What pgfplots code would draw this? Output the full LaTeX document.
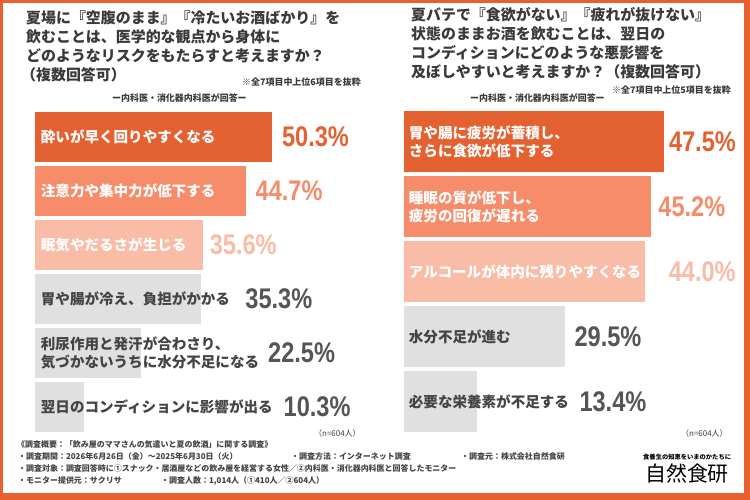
\documentclass[border=0pt]{standalone}
\usepackage{pgfplots}
\pgfplotsset{compat=1.18}
\usepackage{fontspec}
\setmainfont{Noto Sans CJK JP}
\newfontfamily\numfont[FakeStretch=0.83]{Liberation Sans}
\definecolor{framecol}{HTML}{E8602E}
\definecolor{cA}{HTML}{E46232}
\definecolor{cB}{HTML}{F68C69}
\definecolor{cC}{HTML}{F9BCA6}
\definecolor{cG}{HTML}{E0E0E0}
\definecolor{vG}{HTML}{555555}
\definecolor{txt}{HTML}{3A3A3A}
\definecolor{lab}{HTML}{444444}
\pgfplotsset{
  barpanel/.style={
    scale only axis, xmin=0, xmax=60, y dir=reverse,
    xbar, bar shift=0pt, clip=false, axis on top,
    axis line style={draw=none}, tick style={draw=none},
    xtick=\empty,
    yticklabel style={anchor=west, inner sep=0pt, align=left, text=lab,
      font=\bfseries\fontsize{14.6}{17.5}\selectfont},
    point meta=x,
    nodes near coords={\numfont\bfseries\fontsize{28.5}{30}\selectfont\pgfmathprintnumber[fixed,fixed zerofill,precision=1,assume math mode=true]{\pgfplotspointmeta}\%},
    every node near coord/.append style={anchor=west, inner sep=0pt},
  }
}
\begin{document}
\begin{tikzpicture}
\path[use as bounding box] (0,0) rectangle (750bp,500bp);
\fill[framecol] (0,0) rectangle (750bp,500bp);
\fill[white] (3bp,7bp) rectangle (744bp,497bp);

% ---------- titles ----------
\begin{scope}[every node/.style={anchor=base west, inner sep=0pt, text=txt, font=\bfseries\fontsize{15}{19}\selectfont}]
\node at (26bp,476.3bp) {夏場に『空腹のまま』『冷たいお酒ばかり』を};
\node at (26bp,457.3bp) {飲むことは、医学的な観点から身体に};
\node at (26bp,438.3bp) {どのようなリスクをもたらすと考えますか？};
\node at (21bp,419.3bp) {（複数回答可）};
\node at (411bp,479.3bp) {夏バテで『食欲がない』『疲れが抜けない』};
\node at (411bp,460.3bp) {状態のままお酒を飲むことは、翌日の};
\node at (411bp,441.3bp) {コンディションにどのような悪影響を};
\node at (411bp,422.3bp) {及ぼしやすいと考えますか？（複数回答可）};
\end{scope}
\begin{scope}[every node/.style={anchor=base west, inner sep=0pt, text=txt, font=\bfseries\fontsize{9}{11}\selectfont}]
\node at (242bp,414bp) {※全7項目中上位6項目を抜粋};
\node at (612bp,406bp) {※全7項目中上位5項目を抜粋};
\node at (112bp,398bp) {ー内科医・消化器内科医が回答ー};
\node at (470bp,398bp) {ー内科医・消化器内科医が回答ー};
\end{scope}
\begin{scope}[every node/.style={anchor=base west, inner sep=0pt, text=txt, font=\fontsize{8}{10}\selectfont}]
\node at (314bp,63bp) {（n=604人）};
\node at (681bp,63bp) {（n=604人）};
\end{scope}

% ---------- left chart ----------
\begin{axis}[barpanel,
  at={(35bp,390bp)}, anchor=north west,
  width=282.6bp, height=324bp, ymin=0.5, ymax=6.5,
  bar width=0.926,
  ytick={1,2,3,4,5,6},
  yticklabel style={xshift=10bp},
  yticklabels={{\color{white}酔いが早く回りやすくなる},
               {\color{white}注意力や集中力が低下する},
               {\color{white}眠気やだるさが生じる},
               {胃や腸が冷え、負担がかかる},
               {利尿作用と発汗が合わさり、\\気づかないうちに水分不足になる},
               {翌日のコンディションに影響が出る}},
]
\addplot[draw=none, fill=cA, nodes near coords style={text=cA, xshift=10bp}] coordinates {(50.3,1)};
\addplot[draw=none, fill=cB, nodes near coords style={text=cB, xshift=10bp}] coordinates {(44.7,2)};
\addplot[draw=none, fill=cC, nodes near coords style={text=cC, xshift=7bp}] coordinates {(35.6,3)};
\addplot[draw=none, fill=cG, nodes near coords style={text=vG, xshift=44bp}] coordinates {(35.3,4)};
\addplot[draw=none, fill=cG, nodes near coords style={text=vG, xshift=127bp}] coordinates {(22.5,5)};
\addplot[draw=none, fill=cG, nodes near coords style={text=vG, xshift=200bp}] coordinates {(10.3,6)};
\end{axis}

% ---------- right chart ----------
\begin{axis}[barpanel,
  at={(404bp,390.5bp)}, anchor=north west,
  width=328.2bp, height=324.5bp, ymin=0.5, ymax=5.5,
  bar width=0.94,
  ytick={1,2,3,4,5},
  yticklabel style={xshift=9bp},
  yticklabels={{\color{white}胃や腸に疲労が蓄積し、\\\color{white}さらに食欲が低下する},
               {\color{white}睡眠の質が低下し、\\\color{white}疲労の回復が遅れる},
               {\color{white}アルコールが体内に残りやすくなる},
               {水分不足が進む},
               {必要な栄養素が不足する}},
]
\addplot[draw=none, fill=cA, nodes near coords style={text=cA, xshift=5bp}] coordinates {(47.5,1)};
\addplot[draw=none, fill=cB, nodes near coords style={text=cB, xshift=7bp}] coordinates {(45.2,2)};
\addplot[draw=none, fill=cC, nodes near coords style={text=cC, xshift=24bp}] coordinates {(44.0,3)};
\addplot[draw=none, fill=cG, nodes near coords style={text=vG, xshift=9bp}] coordinates {(29.5,4)};
\addplot[draw=none, fill=cG, nodes near coords style={text=vG, xshift=102bp}] coordinates {(13.4,5)};
\end{axis}

% ---------- footer ----------
\begin{scope}[every node/.style={anchor=base west, inner sep=0pt, text=lab, font=\bfseries\fontsize{8}{10}\selectfont}]
\node at (17bp,52bp) {《調査概要：「飲み屋のママさんの気遣いと夏の飲酒」に関する調査》};
\node at (18bp,40bp) {・調査期間：2026年6月26日（金）～2025年6月30日（火）};
\node at (291bp,40bp) {・調査方法：インターネット調査};
\node at (461bp,40bp) {・調査元：株式会社自然食研};
\node at (18bp,29bp) {・調査対象：調査回答時に①スナック・居酒屋などの飲み屋を経営する女性／②内科医・消化器内科医と回答したモニター};
\node at (18bp,17bp) {・モニター提供元：サクリサ};
\node at (161bp,17bp) {・調査人数：1,014人（①410人／②604人）};
\end{scope}
\node[anchor=base west, inner sep=0pt, text=black, font=\bfseries\fontsize{6.3}{7}\selectfont] at (643bp,40bp) {食養生の知恵をいまのかたちに};
\node[anchor=base west, inner sep=0pt, text=black, font=\fontsize{21}{24}\selectfont] at (645bp,19bp) {自然食研};
\end{tikzpicture}
\end{document}
